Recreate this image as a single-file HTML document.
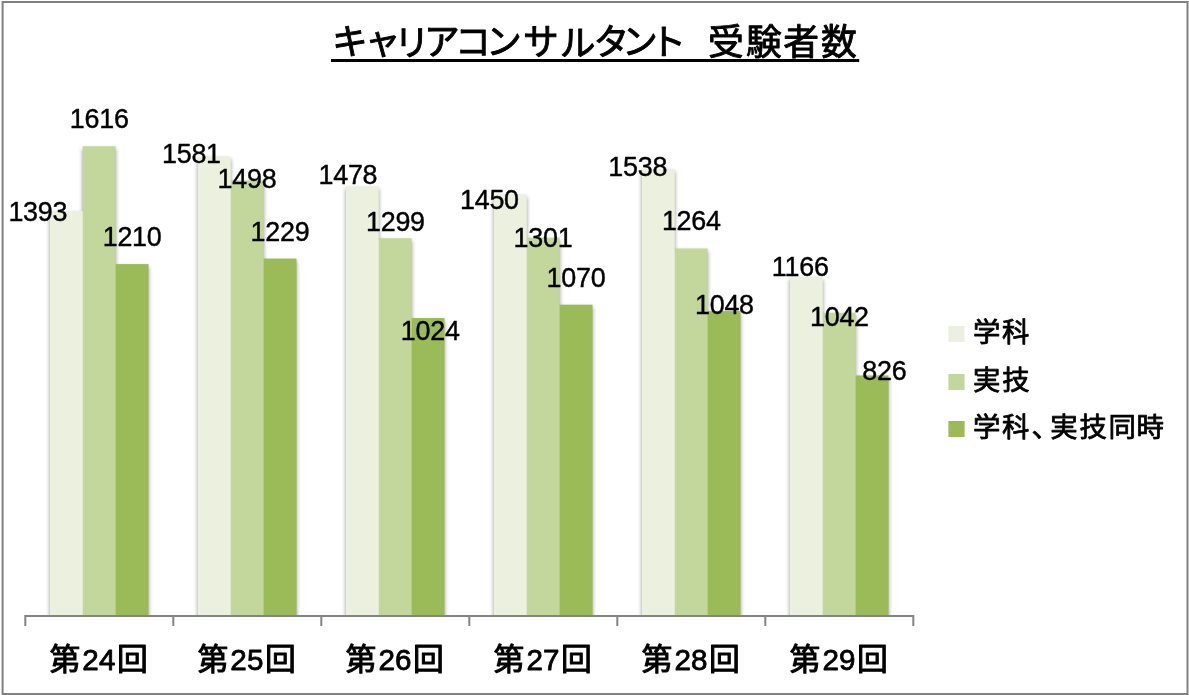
<!DOCTYPE html>
<html lang="ja">
<head>
<meta charset="utf-8">
<title>キャリアコンサルタント 受験者数</title>
<style>
html,body{margin:0;padding:0;background:#fff;}
body{width:1189px;height:695px;overflow:hidden;}
svg{display:block;}
text{font-family:"Liberation Sans","Noto Sans CJK JP",sans-serif;fill:#000;stroke:#000;stroke-linejoin:round;}
.num{font-size:26.9px;text-anchor:middle;stroke-width:0.4px;letter-spacing:-0.25px;}
.ttl{font-size:35.8px;stroke-width:0.9px;}
.cat{font-size:30.8px;stroke-width:1.0px;}
.cat .d{font-size:29.6px;stroke-width:0.8px;}
.leg{font-size:27.36px;stroke-width:0.8px;}
</style>
</head>
<body>
<svg width="1189" height="695" viewBox="0 0 1189 695">
<defs>
<filter id="sh" x="-20%" y="-5%" width="140%" height="110%">
<feGaussianBlur in="SourceGraphic" stdDeviation="2.1"/>
</filter>
<clipPath id="plot"><rect x="0" y="0" width="1189" height="615"/></clipPath>
</defs>
<rect x="0" y="0" width="1189" height="695" fill="#fff"/>
<rect x="2.6" y="2" width="1184.9" height="692" fill="none" stroke="#808080" stroke-width="2"/>
<g clip-path="url(#plot)"><g filter="url(#sh)" fill="#000" fill-opacity="0.42">
<rect x="49.87" y="213.63" width="32.89" height="413.97"/>
<rect x="82.76" y="148.96" width="32.89" height="478.64"/>
<rect x="115.64" y="266.70" width="32.89" height="360.90"/>
<rect x="197.87" y="159.11" width="32.89" height="468.49"/>
<rect x="230.76" y="183.18" width="32.89" height="444.42"/>
<rect x="263.64" y="261.19" width="32.89" height="366.41"/>
<rect x="345.87" y="188.98" width="32.89" height="438.62"/>
<rect x="378.76" y="240.89" width="32.89" height="386.71"/>
<rect x="411.64" y="320.64" width="32.89" height="306.96"/>
<rect x="493.87" y="197.10" width="32.89" height="430.50"/>
<rect x="526.76" y="240.31" width="32.89" height="387.29"/>
<rect x="559.64" y="307.30" width="32.89" height="320.30"/>
<rect x="641.87" y="171.58" width="32.89" height="456.02"/>
<rect x="674.76" y="251.04" width="32.89" height="376.56"/>
<rect x="707.64" y="313.68" width="32.89" height="313.92"/>
<rect x="789.87" y="279.46" width="32.89" height="348.14"/>
<rect x="822.76" y="315.42" width="32.89" height="312.18"/>
<rect x="855.64" y="378.06" width="32.89" height="249.54"/>
</g></g>
<g fill="#EBF1DE">
<path d="M49.87 211.03h32.89v1.00h1v402.97h-33.89z"/>
<path d="M197.87 156.51h32.89v25.07h1v433.42h-33.89z"/>
<path d="M345.87 186.38h32.89v52.91h1v375.71h-33.89z"/>
<path d="M493.87 194.50h32.89v44.21h1v376.29h-33.89z"/>
<path d="M641.87 168.98h32.89v80.46h1v365.56h-33.89z"/>
<path d="M789.87 276.86h32.89v36.96h1v301.18h-33.89z"/>
</g>
<g fill="#C3D69B">
<path d="M82.76 146.36h32.89v118.74h1v349.90h-33.89z"/>
<path d="M230.76 180.58h32.89v79.01h1v355.41h-33.89z"/>
<path d="M378.76 238.29h32.89v80.75h1v295.96h-33.89z"/>
<path d="M526.76 237.71h32.89v67.99h1v309.30h-33.89z"/>
<path d="M674.76 248.44h32.89v63.64h1v302.92h-33.89z"/>
<path d="M822.76 312.82h32.89v63.64h1v238.54h-33.89z"/>
</g>
<g fill="#9BBB59">
<rect x="115.64" y="264.10" width="32.89" height="350.90"/>
<rect x="263.64" y="258.59" width="32.89" height="356.41"/>
<rect x="411.64" y="318.04" width="32.89" height="296.96"/>
<rect x="559.64" y="304.70" width="32.89" height="310.30"/>
<rect x="707.64" y="311.08" width="32.89" height="303.92"/>
<rect x="855.64" y="375.46" width="32.89" height="239.54"/>
</g>
<path d="M24.3 616H914.3M25.3 616V626M173.3 616V626M321.3 616V626M469.3 616V626M617.3 616V626M765.3 616V626M913.3 616V626" stroke="#848484" stroke-width="2" fill="none"/>
<text class="cat" x="49.6 82.3 98.9 116.9" y="670">第<tspan class="d">24</tspan>回</text>
<text class="cat" x="197.6 230.3 246.9 264.9" y="670">第<tspan class="d">25</tspan>回</text>
<text class="cat" x="345.6 378.4 395.0 412.9" y="670">第<tspan class="d">26</tspan>回</text>
<text class="cat" x="493.6 526.4 543.0 560.9" y="670">第<tspan class="d">27</tspan>回</text>
<text class="cat" x="641.6 674.4 691.0 708.9" y="670">第<tspan class="d">28</tspan>回</text>
<text class="cat" x="789.6 822.4 839.0 856.9" y="670">第<tspan class="d">29</tspan>回</text>
<text class="num" x="37.8" y="221.0">1393</text>
<text class="num" x="99.2" y="128.0">1616</text>
<text class="num" x="132.1" y="246.0">1210</text>
<text class="num" x="191.4" y="163.0">1581</text>
<text class="num" x="247.0" y="188.0">1498</text>
<text class="num" x="280.0" y="241.0">1229</text>
<text class="num" x="347.9" y="184.0">1478</text>
<text class="num" x="395.4" y="231.0">1299</text>
<text class="num" x="430.2" y="340.0">1024</text>
<text class="num" x="489.4" y="209.0">1450</text>
<text class="num" x="543.0" y="247.0">1301</text>
<text class="num" x="576.0" y="287.0">1070</text>
<text class="num" x="637.7" y="176.0">1538</text>
<text class="num" x="691.3" y="230.0">1264</text>
<text class="num" x="724.4" y="314.0">1048</text>
<text class="num" x="800.2" y="276.0">1166</text>
<text class="num" x="839.4" y="326.0">1042</text>
<text class="num" x="884.4" y="380.0">826</text>
<text class="ttl" x="332.0 364.7 394.1 424.0 455.0 485.9 523.1 559.7 593.6 622.0 650.3 690.0 707.9 745.9 783.2 821.1" y="55 54 56 55 55 55 55 56 55 55 55 55 55 55 55 55">キャリアコンサルタント 受験者数</text>
<rect x="331" y="59" width="528.2" height="3" fill="#000"/>
<rect x="948.4" y="326.0" width="16.2" height="16" fill="#EBF1DE"/>
<text class="leg" x="972.9 1002.0" y="342">学科</text>
<rect x="948.4" y="374.0" width="16.2" height="16" fill="#C3D69B"/>
<text class="leg" x="972.9 1002.3" y="390">実技</text>
<rect x="948.4" y="421.0" width="16.2" height="16" fill="#9BBB59"/>
<text class="leg" x="972.9 1002.0 1031.4 1050.3 1079.4 1108.4 1136.5" y="437">学科、実技同時</text>
</svg>
</body>
</html>
